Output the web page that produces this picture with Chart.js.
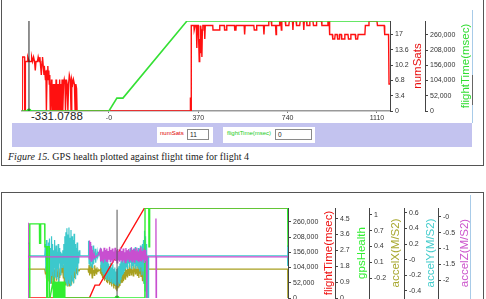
<!DOCTYPE html>
<html><head><meta charset="utf-8">
<script src="https://cdn.jsdelivr.net/npm/chart.js@4.4.1/dist/chart.umd.min.js"></script>
<style>
html,body{margin:0;padding:0;background:#fff;width:486px;height:299px;overflow:hidden;position:relative;font-family:"Liberation Sans",Arial,sans-serif}
.abs{position:absolute}
#box1{left:1px;top:-20px;width:483px;height:186px;border:1px solid #555;box-sizing:border-box}
#box2{left:1px;top:192px;width:483px;height:200px;border:1px solid #555;box-sizing:border-box}
#band{left:12px;top:123px;width:460px;height:24px;background:#c3c3ef}
.wb{background:#fff;height:16px;top:127px}
.lab{font-size:6px;top:130px}
.inp{top:129px;height:11px;border:1px solid #8a8a8a;box-sizing:border-box;background:#fff;font-size:6.5px;line-height:9px;padding-left:2px;color:#222}
#cap{left:8px;top:151px;font-family:"Liberation Serif","Times New Roman",serif;font-size:10px;color:#222;white-space:nowrap}
#readout{left:31px;top:110px;font-size:11.5px;color:#222}
</style></head>
<body>
<div id="box1" class="abs"></div>
<div id="box2" class="abs"></div>
<div class="abs" style="left:472px;top:10px;width:1px;height:113px;background:#a8cbe8"></div>
<div class="abs" style="left:472px;top:75px;width:1px;height:30px;background:#666"></div>
<div class="abs" style="left:470px;top:195px;width:1px;height:110px;background:#a8cbe8"></div>
<div id="band" class="abs"></div>
<div class="abs wb" style="left:157px;width:56px"></div>
<div class="abs lab" style="left:160px;color:#e00000">numSats</div>
<div class="abs inp" style="left:187px;width:22px">11</div>
<div class="abs wb" style="left:223px;width:92px"></div>
<div class="abs lab" style="left:227px;color:#22cc22">flightTime(msec)</div>
<div class="abs inp" style="left:275px;width:37px">0</div>
<div id="cap" class="abs"><i>Figure 15.</i> GPS health plotted against flight time for flight 4</div>
<div id="readout" class="abs">-331.0788</div>
<canvas id="c1" class="abs" style="left:0;top:0" width="486" height="125"></canvas>
<canvas id="c2" class="abs" style="left:0;top:195px" width="486" height="120"></canvas>
<script>
// ---------- shared x range (time) ----------
const timeMin = -360, timeMax = 1164;
const xTickVals = [0, 370, 740, 1110];
const xTickLabels = ['-0', '370', '740', '1110'];

// ---------- flightTime series (both charts) ----------
const flightT = [-360, 0, 33, 58, 323, 1164];
const flightV = [0, 0, 44000, 44000, 307000, 307000];
const flightMax = 307000;
const flightTicks = [0, 52000, 104000, 156000, 208000, 260000];

// ---------- numSats series (top chart) ----------
const satsT = [-360,-359,-350,-349,-347,-346,-338,-336,-330,-322,-320,-316,-312,-308,-305,-302,-296,-293,-289,-286,-283,-280,-277,-275,-272,-269,-266,-263,-261,-259,-256,-253,-251,-249,-247,-245,-243,-240,-238,-236,-232,-230,-228,-226,-224,-221,-219,-217,-214,-212,-209,-207,-204,-202,-199,-197,-194,-191,-188,-185,-182,-180,-176,-173,-170,-167,-164,-160,-157,-154,-150,-147,-143,-140,-137,-134,-132,
336,337,338,340,341,352,353,356,357,362,364,366,370,372,374,376,378,380,383,385,387,389,395,397,399,406,430,431,458,459,478,479,487,488,520,521,526,527,560,562,564,600,602,610,612,640,642,644,660,662,672,674,690,692,694,705,707,712,714,716,730,732,745,747,760,762,764,775,777,790,792,805,807,809,818,820,830,832,845,847,858,860,880,882,905,907,912,914,925,927,935,937,945,947,953,955,962,964,975,977,990,992,1000,1002,1020,1022,1030,1032,1060,1062,1075,1077,1110,1112,1140,1142,1158,1160,1164];
const satsV = [0,12,12,0,0,11,11,12,11,11,12,11,12,11,9,11,11,12,11,12,10,8,11,12,10,8,9,7,9,0,9,10,7,9,6,8,0,0,7,0,0,6,0,6,0,0,7,0,6,0,6,0,7,0,6,0,7,0,6,7,6,0,7,6,0,6,8,7,0,7,6,7,6,0,6,5,0,
0,3,0,0,19,19,18,18,19,19,14,19,19,15,11,16,13,19,17,12,18,19,19,16,19,19,19,18,18,19,19,18,18,19,19,18,18,19,19,17,19,19,18,18,19,19,17,19,19,20,20,19,19,17,19,19,20,20,18,20,20,19,19,20,20,18,20,20,19,19,20,20,18,20,20,19,19,20,20,19,19,20,20,19,19,20,20,17,17,16,16,17,17,16,16,17,17,16,16,17,17,16,16,17,17,16,16,17,17,19,19,20,20,19,19,17,17,6,6];
const satsMax = 20;
const satsTicks = [0, 3.4, 6.8, 10.2, 13.6, 17];

// ---------- cursors ----------
const cursorTop = -331.0788;
const cursorBottom = 162;

// ---------- bottom chart series ----------
const healthT = [-360,-351,-350,-349,-293,-292,-287,-286,-262,-261,-251,-250,-247,-246,-236,-235,-231,-213,-210,-207,-204,-201,-198,-195,-192,-189,-186,-183,-180,-177,-174,-171,-168,-165,-162,-159,-156,-153,-150,-147,-144,325,326,348,349,352,353,1162,1164];
const healthV = [3.1,3.1,0,4.2,4.2,3.1,3.1,4.2,4.2,2.9,2.9,0,0,2.9,2.9,0,0,0.94,0,0.94,0,0.94,0,0.94,0,0.94,0,0.94,0,0.94,0,0.94,0,0.94,0,0.94,0,0.94,0,0.94,0,0,5.1,5.1,2.9,2.9,5.1,5.1,2.9];
const healthMax = 5.1;
const healthTicks = [0, 0.9, 1.8, 2.7, 3.6, 4.5];

const accXT = [-360,-262,-258,-255,-252,-249,-246,-243,-240,-237,-234,-231,-228,-225,-222,-219,-216,-213,-210,-207,-204,-201,-198,-195,-192,-189,-186,-183,-180,-177,-174,-171,-168,-165,-162,-159,-156,-153,-150,-147,-144,-141,-138,-135,-132,-129,-126,-123,-120,-117,-114,-111,-108,-105,-102,-99,-96,-93,-90,-87,-84,-81,-78,-75,-72,-69,-66,-60,-55,
-8,-5,-2,1,4,7,10,13,16,19,22,25,28,31,34,37,40,43,46,50,55,62,65,68,71,74,77,80,83,86,89,92,95,98,101,104,107,110,113,116,119,122,125,128,131,134,137,140,143,146,149,152,155,158,161,164,167,170,173,176,179,182,185,188,191,194,197,200,203,206,209,212,215,218,221,224,227,230,233,236,239,242,245,248,251,254,257,260,263,266,269,272,275,278,281,284,287,290,293,296,299,302,305,308,311,314,317,320,323,326,329,340,1162,1163,1164];
const accXV = [-0.03,-0.03,-0.12,0.02,-0.2,-0.05,-0.25,0.05,-0.15,-0.02,-0.28,0,-0.1,-0.3,0.03,-0.18,-0.05,-0.22,0.02,-0.12,-0.3,-0.04,-0.15,0.04,-0.25,-0.08,-0.18,0,-0.3,-0.1,-0.2,-0.02,-0.15,-0.05,-0.1,0.02,-0.08,-0.2,0.05,-0.3,-0.05,-0.33,0.06,-0.25,-0.1,-0.35,0.04,-0.3,-0.08,-0.35,0.05,-0.28,-0.12,-0.33,0.02,-0.25,-0.05,-0.3,-0.1,-0.2,0,-0.15,-0.05,-0.12,-0.03,-0.1,-0.04,-0.06,-0.03,
-0.03,-0.1,0.05,-0.15,-0.02,-0.12,0.06,-0.08,-0.2,0.02,-0.1,-0.05,-0.15,0.04,-0.1,-0.02,-0.12,-0.05,-0.08,-0.03,-0.06,-0.04,-0.12,0.05,-0.15,-0.05,-0.2,0.03,-0.18,-0.08,-0.25,-0.05,-0.22,-0.1,-0.28,-0.08,-0.3,-0.12,-0.26,-0.15,-0.33,-0.1,-0.3,-0.18,-0.36,-0.15,-0.3,-0.2,-0.4,-0.18,-0.35,-0.22,-0.42,-0.25,-0.45,-0.22,-0.4,-0.2,-0.38,-0.15,-0.35,-0.18,-0.3,-0.1,-0.28,-0.12,-0.25,-0.05,-0.2,-0.08,-0.22,0.02,-0.15,-0.05,-0.18,0.04,-0.12,-0.03,-0.15,0.06,-0.1,-0.02,-0.14,0.05,-0.1,-0.04,-0.16,0.06,-0.08,-0.02,-0.12,0.04,-0.1,-0.03,-0.15,0.05,-0.08,-0.2,0.02,-0.12,-0.05,-0.18,0.03,-0.1,-0.25,0.05,-0.15,-0.3,-0.05,-0.2,-0.03,-0.03,-0.03,-0.58,-0.03];
const accXMin = -0.58, accXMax = 1.13;
const accXTicks = [-0.2, 0.1, 0.4, 0.7, 1];
const accXLabels = ['-0.2', '0.1', '0.4', '0.7', '1'];

const accYT = [-360,-262,-258,-255,-252,-249,-246,-243,-240,-237,-234,-231,-228,-225,-222,-219,-216,-213,-210,-207,-204,-201,-198,-195,-192,-189,-186,-183,-180,-177,-174,-171,-168,-165,-162,-159,-156,-153,-150,-147,-144,-141,-138,-135,-132,-129,-126,-123,-120,-117,-114,-111,-108,-105,-102,-99,-96,-93,-90,-87,-84,-81,-78,-75,-72,-69,-66,-63,-60,-56,
-8,-5,-2,1,4,7,10,13,16,19,22,25,28,31,34,37,40,43,46,50,55,62,65,68,71,74,77,80,83,86,89,92,95,98,101,104,107,110,113,116,119,122,125,128,131,134,137,140,143,146,149,152,155,158,161,164,167,170,173,176,179,182,185,188,191,194,197,200,203,206,209,212,215,218,221,224,227,230,233,236,239,242,245,248,251,254,257,260,263,266,269,272,275,278,281,284,287,290,293,296,299,302,305,308,311,314,317,320,323,326,329,332,335,338,341,344,347,1161,1162,1163,1164];
const accYV = [0.05,0.05,0.2,-0.15,0.25,-0.2,0.1,-0.25,0.22,-0.1,0.27,-0.3,0.15,-0.2,0.3,-0.15,0.2,-0.28,0.12,-0.1,0.25,-0.22,0.05,0.18,-0.25,0.1,-0.12,0.2,-0.3,0.15,-0.05,0.1,-0.2,0.08,0.02,-0.1,0.12,-0.05,0.2,-0.22,0.3,-0.28,0.35,-0.3,0.4,-0.33,0.32,-0.25,0.41,-0.3,0.28,-0.33,0.38,-0.2,0.3,-0.28,0.25,-0.3,0.33,-0.15,0.2,-0.25,0.15,-0.1,0.22,-0.2,0.1,-0.05,0.12,0.05,
0.05,0.24,-0.05,0.15,-0.08,0.2,-0.02,0.12,-0.1,0.08,0.18,-0.06,0.1,0,0.14,-0.04,0.08,0.02,0.1,0.04,0.08,0.05,0.15,-0.1,0.12,-0.15,0.08,-0.18,0.1,-0.2,0.05,-0.22,0.02,-0.25,-0.02,-0.2,0,-0.26,-0.05,-0.22,-0.08,-0.28,-0.04,-0.24,-0.1,-0.3,-0.06,-0.28,-0.12,-0.3,-0.1,-0.32,-0.15,-0.3,-0.12,-0.33,-0.1,-0.28,-0.08,-0.3,-0.05,-0.25,-0.02,-0.22,0.02,-0.2,-0.04,-0.18,0.05,-0.15,0.02,-0.12,0.1,-0.1,0.08,-0.12,0.12,-0.05,0.1,-0.1,0.15,-0.04,0.12,-0.12,0.08,-0.08,0.14,-0.1,0.1,-0.06,0.16,-0.12,0.08,-0.08,0.12,-0.1,0.15,-0.12,0.1,-0.15,0.18,-0.1,0.12,-0.2,0.2,-0.15,0.25,-0.3,0.37,-0.4,0.3,-0.49,0.2,-0.49,0.05,-0.49,0.05,0.05,0.18,-0.08,0.05];
const accYMin = -0.49, accYMax = 0.66;
const accYTicks = [-0.4, -0.2, 0, 0.2, 0.4, 0.6];
const accYLabels = ['-0.4', '-0.2', '-0', '0.2', '0.4', '0.6'];

const accZT = [-360,-359,-358,-2,0,2,4,6,8,10,12,14,16,18,20,22,24,26,28,30,40,50,62,66,70,74,78,82,86,90,94,98,102,106,110,114,118,122,126,130,134,138,142,146,150,154,158,162,166,170,174,178,182,186,190,194,198,202,206,210,214,218,222,226,230,234,238,242,246,250,254,258,262,266,270,274,278,282,286,290,294,298,302,306,310,314,318,322,326,330,334,336,337,339,389,390,391,393,1164];
const accZV = [-0.19,-2.6,-1.27,-1.27,-0.75,-1.35,-0.8,-1.3,-1.0,-1.4,-0.92,-1.25,-1.05,-1.38,-1.1,-1.3,-1.15,-1.28,-1.2,-1.3,-1.25,-1.22,-1.05,-1.42,-1.0,-1.38,-1.1,-1.45,-0.98,-1.35,-1.05,-1.4,-1.0,-1.44,-1.08,-1.36,-0.95,-1.42,-1.05,-1.38,-1.0,-1.45,-1.1,-1.35,-0.98,-1.4,-1.06,-1.46,-1.02,-1.38,-1.1,-1.42,-0.97,-1.36,-1.08,-1.44,-1.0,-1.38,-1.12,-1.45,-0.99,-1.4,-1.06,-1.36,-1.02,-1.43,-1.1,-1.38,-0.96,-1.42,-1.05,-1.37,-1.0,-1.45,-1.08,-1.35,-0.98,-1.4,-1.1,-1.44,-1.02,-1.38,-0.95,-1.42,-1.08,-1.36,-1.0,-1.46,-1.05,-1.4,-1.2,-1.27,-2.6,-1.27,-1.27,-0.05,-2.6,-1.27,-1.27];
const accZMin = -2.57, accZMax = 0.28;
const accZTicks = [-2, -1.5, -1, -0.5, 0];
const accZLabels = ['-2', '-1.5', '-1', '-0.5', '-0'];

// ---------- helpers ----------
const pts = (ts, vs) => ts.map((t, i) => ({x: t, y: vs[i]}));
const TICKFONT = {family: '"Liberation Sans", Arial, sans-serif', size: 7};
function rightAxis(min, max, vals, labels, width, weight) {
  return {
    type: 'linear', position: 'right', min, max, weight,
    grid: {drawOnChartArea: false, drawTicks: true, tickLength: 3, color: '#444'},
    border: {display: true, color: '#444', width: 1},
    ticks: {font: TICKFONT, color: '#333', padding: 2, callback: (v, i) => labels[i]},
    afterBuildTicks: s => { s.ticks = vals.map(v => ({value: v})); },
    afterFit: s => { s.width = width; }
  };
}
const fmt = v => v.toLocaleString('en-US');
const vTitles = {
  id: 'vTitles',
  afterDraw(chart, args, opts) {
    const ctx = chart.ctx, ca = chart.chartArea;
    (opts.items || []).forEach(it => {
      const s = chart.scales[it.axis];
      ctx.save();
      ctx.translate(s.right - it.inset, (ca.top + ca.bottom) / 2);
      ctx.rotate(-Math.PI / 2);
      ctx.font = it.size + 'px "Liberation Sans", Arial, sans-serif';
      ctx.fillStyle = it.color; ctx.textAlign = 'center'; ctx.textBaseline = 'middle';
      ctx.fillText(it.text, 0, 0);
      ctx.restore();
    });
  }
};
Chart.register(vTitles);

const RED = '#ff1010', GREEN = '#35e035';

// ---------- top chart ----------
new Chart(document.getElementById('c1'), {
  type: 'line',
  data: {datasets: [
    {data: [{x: cursorTop, y: 0}, {x: cursorTop, y: flightMax}], yAxisID: 'yF', borderColor: '#222', borderWidth: 1, pointRadius: 0},
    {data: [{x: cursorTop, y: 0}], yAxisID: 'yF', showLine: false, pointRadius: 2.5, pointBackgroundColor: '#22ee22', pointBorderWidth: 0},
    {data: pts(flightT, flightV), yAxisID: 'yF', borderColor: GREEN, borderWidth: 1.6, pointRadius: 0},
    {data: pts(satsT, satsV), yAxisID: 'yS', borderColor: RED, borderWidth: 1.4, pointRadius: 0}
  ]},
  options: {
    responsive: false, animation: false, events: [],
    layout: {padding: {left: 22, top: 21, right: 14, bottom: 0}},
    plugins: {legend: {display: false}, tooltip: {enabled: false},
      vTitles: {items: [
        {axis: 'yS', text: 'numSats', color: '#e81010', size: 11.5, inset: 7},
        {axis: 'yF', text: 'flightTime(msec)', color: '#33dd33', size: 11.5, inset: 6}
      ]}},
    scales: {
      x: {type: 'linear', min: timeMin, max: timeMax, position: 'bottom',
        grid: {drawOnChartArea: false, drawTicks: true, tickLength: 2, color: '#777'},
        border: {display: true, color: '#999', width: 1.5},
        ticks: {font: TICKFONT, color: '#333', padding: 1, maxRotation: 0, callback: (v, i) => xTickLabels[i]},
        afterBuildTicks: s => { s.ticks = xTickVals.map(v => ({value: v})); },
        afterFit: s => { s.height = 14; }},
      yS: rightAxis(0, satsMax, satsTicks, satsTicks.map(String), 35, 1),
      yF: rightAxis(0, flightMax, flightTicks, flightTicks.map(fmt), 47, 2)
    }
  }
});

// ---------- bottom chart ----------
new Chart(document.getElementById('c2'), {
  type: 'line',
  data: {datasets: [
    {data: [{x: cursorBottom, y: 0}, {x: cursorBottom, y: 5.0}], yAxisID: 'yG', borderColor: '#555', borderWidth: 1, pointRadius: 0},
    {data: [{x: cursorBottom, y: 0}], yAxisID: 'yG', showLine: false, pointRadius: 2.5, pointBackgroundColor: '#22ee22', pointBorderWidth: 0},
    {data: pts(accZT, accZV), yAxisID: 'yZ', borderColor: '#c84fd0', borderWidth: 1.3, pointRadius: 0},
    {data: pts(healthT, healthV), yAxisID: 'yG', borderColor: '#30ee30', borderWidth: 1.4, pointRadius: 0},
    {data: pts(flightT, flightV), yAxisID: 'yF', borderColor: RED, borderWidth: 1.4, pointRadius: 0},
    {data: pts(accYT, accYV), yAxisID: 'yY', borderColor: '#3cc8cc', borderWidth: 1.2, pointRadius: 0},
    {data: pts(accXT, accXV), yAxisID: 'yX', borderColor: '#a8a020', borderWidth: 1.2, pointRadius: 0}
  ]},
  options: {
    responsive: false, animation: false, events: [],
    layout: {padding: {left: 28, top: 13, right: 15, bottom: 17}},
    plugins: {legend: {display: false}, tooltip: {enabled: false},
      vTitles: {items: [
        {axis: 'yF', text: 'flightTime(msec)', color: '#ee1111', size: 11.5, inset: 6},
        {axis: 'yG', text: 'gpsHealth', color: '#33ee33', size: 11.5, inset: 7},
        {axis: 'yX', text: 'accelX(M/S2)', color: '#a8a830', size: 11.5, inset: 8},
        {axis: 'yY', text: 'accelY(M/S2)', color: '#44cccc', size: 11.5, inset: 7},
        {axis: 'yZ', text: 'accelZ(M/S2)', color: '#cc55cc', size: 11.5, inset: 6}
      ]}},
    scales: {
      x: {type: 'linear', min: timeMin, max: timeMax, display: false},
      yF: rightAxis(0, flightMax, flightTicks, flightTicks.map(fmt), 47, 1),
      yG: rightAxis(0, healthMax, healthTicks, healthTicks.map(String), 34, 2),
      yX: rightAxis(accXMin, accXMax, accXTicks, accXLabels, 35, 3),
      yY: rightAxis(accYMin, accYMax, accYTicks, accYLabels, 34, 4),
      yZ: rightAxis(accZMin, accZMax, accZTicks, accZLabels, 33, 5)
    }
  }
});
</script>
</body></html>
